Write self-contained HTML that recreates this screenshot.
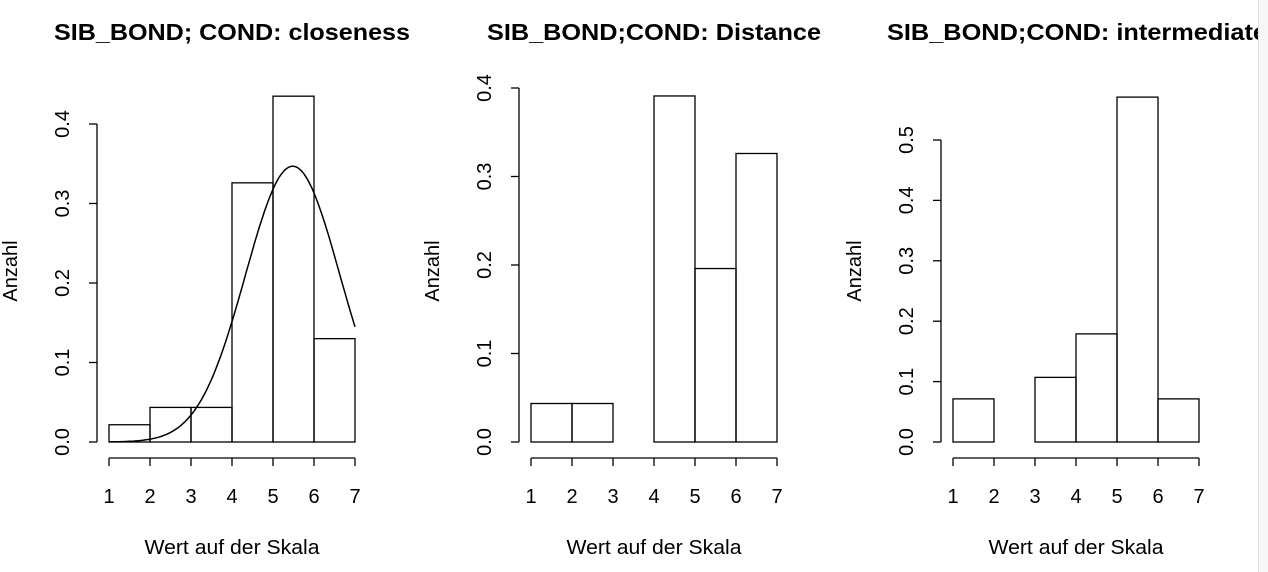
<!DOCTYPE html>
<html><head><meta charset="utf-8"><style>
body{margin:0;background:#fff;width:1268px;height:572px;overflow:hidden;font-family:"Liberation Sans",Arial,sans-serif}
</style></head><body>
<svg id="c" width="1268" height="572" style="position:absolute;left:0;top:0"></svg>
<div style="position:absolute;left:1258px;top:0;width:10px;height:572px;background:#f7f7f7;border-left:1px solid #e2e2e2"></div>
<script>
const breaks=[1,2,3,4,5,6,7];
const xTicks=[1,2,3,4,5,6,7];
const titles=["SIB_BOND; COND: closeness","SIB_BOND;COND: Distance","SIB_BOND;COND: intermediate"];
const dens1=[0.0217,0.0435,0.0435,0.326,0.435,0.130];
const dens2=[0.0435,0.0435,0,0.391,0.196,0.326];
const dens3=[0.0714,0,0.107,0.179,0.571,0.0714];
const yTicks1=[0,0.1,0.2,0.3,0.4];
const yTicks2=[0,0.1,0.2,0.3,0.4];
const yTicks3=[0,0.1,0.2,0.3,0.4,0.5];
const normMean=5.48, normSd=1.15;
const NS="http://www.w3.org/2000/svg";
const svg=document.getElementById('c');
function mk(t,a,p){const e=document.createElementNS(NS,t);for(const k in a)e.setAttribute(k,a[k]);(p||svg).appendChild(e);return e;}
const panels=[
 {x0:109,x1:355,yAx:97,y0:442,ymax:0.4,ytop:124,titleX:54,titleW:356,dens:dens1,ticks:yTicks1,curve:true},
 {x0:531,x1:777,yAx:519,y0:442,ymax:0.4,ytop:88,titleX:487,titleW:334,dens:dens2,ticks:yTicks2},
 {x0:953,x1:1199,yAx:941,y0:442,ymax:0.5,ytop:140,titleX:887,titleW:380,dens:dens3,ticks:yTicks3}];
panels.forEach((p,i)=>{
 const g=mk('g',{});
 
 
 const sx=v=>p.x0+(v-1)*(p.x1-p.x0)/6;
 const sy=v=>p.y0-v*(p.y0-p.ytop)/p.ymax;
 const t=mk('text',{x:p.titleX,y:40,'font-size':'23','font-weight':'bold',fill:'#000',textLength:p.titleW,lengthAdjust:'spacingAndGlyphs'},g);
 t.textContent=titles[i];
 
 
 p.dens.forEach((d,j)=>{
  if(d<=0)return;
  const r=mk('rect',{x:sx(breaks[j]),y:sy(d),width:sx(breaks[j+1])-sx(breaks[j]),height:p.y0-sy(d),fill:'none',stroke:'#000','stroke-width':1.3},g);
  
  
 });
 const xa=mk('g',{},g);
 
 
 mk('line',{x1:sx(1),x2:sx(7),y1:458,y2:458,stroke:'#000','stroke-width':1.3},xa);
 xTicks.forEach(v=>{
  mk('line',{x1:sx(v),x2:sx(v),y1:458,y2:466,stroke:'#000','stroke-width':1.3},xa);
  const l=mk('text',{x:sx(v),y:503,'text-anchor':'middle','font-size':'20'},xa);l.textContent=v;
 });
 const xl=mk('text',{x:(p.x0+p.x1)/2,y:554,'text-anchor':'middle','font-size':'20',textLength:175,lengthAdjust:'spacingAndGlyphs'},g);
 xl.textContent='Wert auf der Skala';
 
 
 const ya=mk('g',{},g);
 
 
 mk('line',{x1:p.yAx,x2:p.yAx,y1:sy(p.ticks[0]),y2:sy(p.ticks[p.ticks.length-1]),stroke:'#000','stroke-width':1.3},ya);
 p.ticks.forEach(v=>{
  mk('line',{x1:p.yAx-8,x2:p.yAx,y1:sy(v),y2:sy(v),stroke:'#000','stroke-width':1.3},ya);
  const tx=p.yAx-28;
  const l=mk('text',{x:tx,y:sy(v),'text-anchor':'middle','font-size':'20',transform:`rotate(-90 ${tx} ${sy(v)})`},ya);
  l.textContent=v.toFixed(1);
 });
 const yx=p.yAx-80, yy=271;
 const yl=mk('text',{x:yx,y:yy,'text-anchor':'middle','font-size':'20',transform:`rotate(-90 ${yx} ${yy})`},g);
 yl.textContent='Anzahl';
 
 
 if(p.curve){
  let d='';
  for(let k=0;k<=120;k++){const v=1+6*k/120;const y=Math.exp(-Math.pow(v-normMean,2)/(2*normSd*normSd))/(normSd*Math.sqrt(2*Math.PI));d+=(k?'L':'M')+sx(v).toFixed(1)+','+sy(y).toFixed(1);}
  const c=mk('path',{d:d,fill:'none',stroke:'#000','stroke-width':1.5},g);
  
  
 }
});
</script>
</body></html>
